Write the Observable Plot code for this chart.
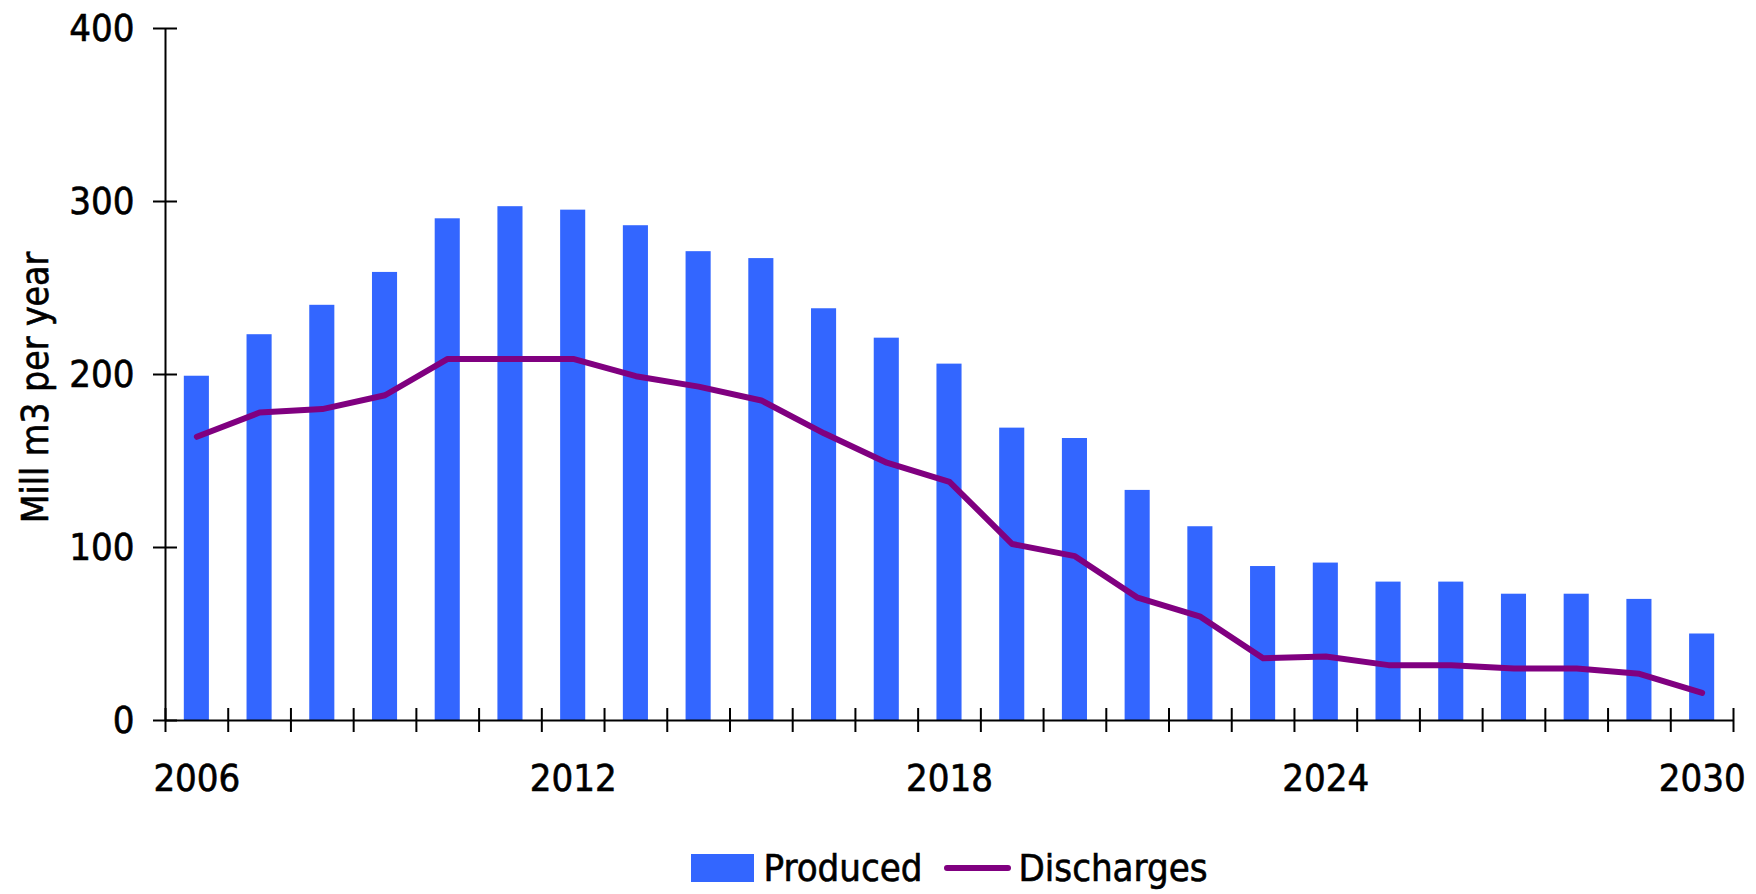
<!DOCTYPE html>
<html>
<head>
<meta charset="utf-8">
<script src="https://cdn.jsdelivr.net/npm/d3@7"></script>
<script src="https://cdn.jsdelivr.net/npm/@observablehq/plot@0.6"></script>
<style>
  html, body { margin: 0; padding: 0; background: #fff; }
  body { width: 1756px; height: 894px; overflow: hidden;
         font-family: "DejaVu Sans Condensed", "Liberation Sans Narrow", sans-serif; font-stretch: condensed; }
  #chart svg text { stroke: #000; stroke-width: 0.6px; }
  #legend { display: flex; justify-content: center; align-items: center;
            box-sizing: border-box; padding-left: 165px; padding-right: 23px; padding-top: 8px;
            height: 60px; font-size: 38px; color: #000; -webkit-text-stroke: 0.6px #000; }
  #legend .sw-bar { display: inline-block; width: 63px; height: 28px; background: #3366FF; margin-right: 10px; }
  #legend .sw-line { display: inline-block; width: 67px; height: 6px; border-radius: 3px; background: #800080; margin: 0 8px 0 21px; }
</style>
</head>
<body>
<div id="chart"></div>
<div id="legend">
  <span class="sw-bar"></span><span>Produced</span>
  <span class="sw-line"></span><span>Discharges</span>
</div>
<script>
const years = [2006, 2007, 2008, 2009, 2010, 2011, 2012, 2013, 2014, 2015, 2016, 2017, 2018,
               2019, 2020, 2021, 2022, 2023, 2024, 2025, 2026, 2027, 2028, 2029, 2030];
const produced = [199, 223, 240, 259, 290, 297, 295, 286, 271, 267, 238, 221, 206,
                  169, 163, 133, 112, 89, 91, 80, 80, 73, 73, 70, 50];
const discharges = [164, 178, 180, 188, 209, 209, 209, 199, 193, 185, 166, 149, 138,
                    102, 95, 71, 60, 36, 37, 32, 32, 30, 30, 27, 16];
const xTickLabels = [2006, 2012, 2018, 2024, 2030];
const yTickLabels = [0, 100, 200, 300, 400];
const yLabel = "Mill m3 per year";

const data = years.map((year, i) => ({year, produced: produced[i], discharges: discharges[i]}));
const xDomain = [years[0] - 0.5, years[years.length - 1] + 0.5];
const bounds = years.map(y => y - 0.5).concat([xDomain[1]]);
const font = '"DejaVu Sans Condensed", "Liberation Sans Narrow", sans-serif';

const chart = Plot.plot({
  width: 1756,
  height: 834,
  marginLeft: 165,
  marginRight: 23,
  marginTop: 28,
  marginBottom: 114,
  style: {fontFamily: font, fontSize: "38px", color: "#000", background: "#fff", fontStretch: "condensed"},
  x: {type: "linear", domain: xDomain},
  y: {domain: [0, 400]},
  marks: [
    Plot.rectY(data, {x1: d => d.year - 0.2, x2: d => d.year + 0.2, y1: 0, y2: "produced", fill: "#3366FF"}),
    Plot.line(data, {x: "year", y: "discharges", stroke: "#800080", strokeWidth: 6,
                     strokeLinecap: "round", strokeLinejoin: "round"}),
    Plot.ruleY([0], {x1: xDomain[0], x2: xDomain[1], stroke: "#000", strokeWidth: 2}),
    Plot.ruleX([xDomain[0]], {y1: 0, y2: 400, stroke: "#000", strokeWidth: 2}),
    Plot.ruleX(bounds, {x: d => d, y1: 0, y2: 0, insetTop: -12, insetBottom: -12, stroke: "#000", strokeWidth: 2}),
    Plot.ruleY(yTickLabels, {y: d => d, x1: xDomain[0], x2: xDomain[0], insetLeft: -12, insetRight: -12, stroke: "#000", strokeWidth: 2}),
    Plot.axisX({ticks: xTickLabels, tickSize: 0, tickPadding: 44, tickFormat: d => String(d), label: null, fontSize: 38}),
    Plot.axisY({ticks: yTickLabels, tickSize: 0, tickPadding: 31, tickFormat: d => String(d), label: null, fontSize: 38}),
    Plot.text([yLabel], {text: d => d, frameAnchor: "left", rotate: -90, dx: -129, dy: 13,
                         textAnchor: "middle", lineAnchor: "middle", fontSize: 37, fill: "#000"})
  ]
});
document.getElementById("chart").appendChild(chart);
</script>
</body>
</html>
